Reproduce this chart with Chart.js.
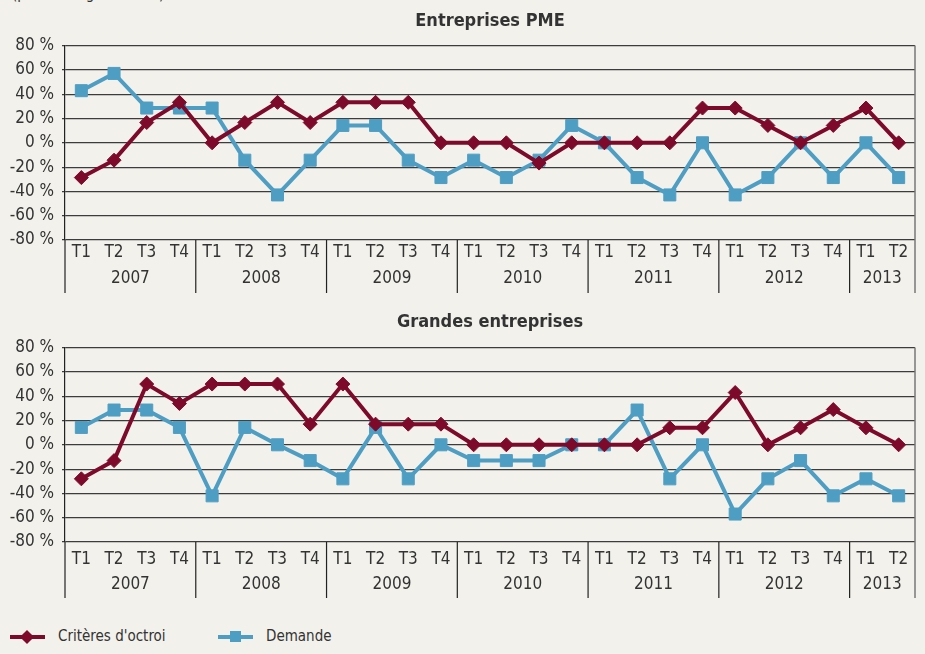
<!DOCTYPE html>
<html>
<head>
<meta charset="utf-8">
<script src="https://cdn.jsdelivr.net/npm/chart.js@4.4.0/dist/chart.umd.min.js"></script>
<style>
  body { margin: 0; background: #f2f1eb; width: 925px; height: 654px; position: relative; overflow: hidden;
         font-family: "DejaVu Sans Condensed", "DejaVu Sans", sans-serif; color: #333; }
  .box { position: absolute; left: 0; width: 925px; height: 300px; }
  #note { position: absolute; left: 12px; top: -13px; font-size: 15px; line-height: 15px; color: #333; }
  .legend { position: absolute; top: 626px; left: 10px; font-size: 15px; }
  .item { position: absolute; top: 0; white-space: nowrap; }
  .sym { position: absolute; top: 9px; width: 35px; height: 4px; }
  .sym i { position: absolute; left: 12px; top: -4px; width: 11px; height: 11px; }
  .txt { position: absolute; left: 48px; top: 0; line-height: 21px; }
</style>
</head>
<body>
<div id="note">(pourcentage du total)</div>
<div class="box" style="top:0"><canvas id="pme"></canvas></div>
<div class="box" style="top:300px"><canvas id="ge"></canvas></div>
<div class="legend">
  <div class="item" style="left:0">
    <div class="sym" style="background:#7d0a2a"><i style="background:#7d0a2a;transform:rotate(45deg);width:10px;height:10px;top:-3px"></i></div>
    <span class="txt">Critères d'octroi</span>
  </div>
  <div class="item" style="left:208px">
    <div class="sym" style="background:#4e9ec4"><i style="background:#4e9ec4"></i></div>
    <span class="txt">Demande</span>
  </div>
</div>
<script>
const quarters = ["T1","T2","T3","T4","T1","T2","T3","T4","T1","T2","T3","T4","T1","T2","T3","T4",
                  "T1","T2","T3","T4","T1","T2","T3","T4","T1","T2"];
const years = ["2007","2008","2009","2010","2011","2012","2013"];
const yearSpans = [4, 4, 4, 4, 4, 4, 2];

// Entreprises PME
const pmeCriteres = [-28.6, -14.3, 16.7, 33.3, 0, 16.7, 33.3, 16.7, 33.3, 33.3, 33.3, 0,
                     0, 0, -16.7, 0, 0, 0, 0, 28.6, 28.6, 14.3, 0, 14.3, 28.6, 0];
const pmeDemande = [42.9, 57.1, 28.6, 28.6, 28.6, -14.3, -42.9, -14.3, 14.3, 14.3, -14.3, -28.6,
                    -14.3, -28.6, -14.3, 14.3, 0, -28.6, -42.9, 0, -42.9, -28.6, 0, -28.6, 0, -28.6];

// Grandes entreprises
const geCriteres = [-28, -13, 50, 34, 50, 50, 50, 17, 50, 17, 17, 17,
                    0, 0, 0, 0, 0, 0, 14, 14, 43, 0, 14, 29, 14, 0];
const geDemande = [14.3, 28.6, 28.6, 14.3, -42, 14.3, 0, -13, -28, 14.3, -28, 0,
                   -13, -13, -13, 0, 0, 28.6, -28, 0, -57, -28, -13, -42, -28, -42];

const RED = "#7d0a2a";
const BLUE = "#4e9ec4";
const INK = "#333333";
const GRID = "#3c3c3c";
const FONT = '"DejaVu Sans Condensed", "DejaVu Sans", sans-serif';

// draws the year row and the group separators under the quarter labels
const yearRow = {
  id: "yearRow",
  afterDraw(chart, args, opts) {
    const x = chart.scales.x;
    const ctx = chart.ctx;
    const top = chart.chartArea.top;
    const base = chart.chartArea.bottom;
    const end = base + opts.sepLength;
    ctx.save();
    ctx.strokeStyle = "#222";
    ctx.lineWidth = 1.2;
    let start = 0;
    years.forEach((yr, i) => {
      const left = x.getPixelForValue(start - 0.5);
      const right = x.getPixelForValue(start + yearSpans[i] - 0.5);
      ctx.beginPath();
      ctx.moveTo(left, base);
      ctx.lineTo(left, end);
      ctx.stroke();
      ctx.fillStyle = INK;
      ctx.font = "17px " + FONT;
      ctx.textAlign = "center";
      ctx.textBaseline = "middle";
      ctx.fillText(yr, (left + right) / 2, base + opts.yearOffset);
      start += yearSpans[i];
    });
    // right edge of the frame
    ctx.strokeStyle = "#777";
    ctx.lineWidth = 1.5;
    ctx.beginPath();
    ctx.moveTo(x.right, top);
    ctx.lineTo(x.right, end);
    ctx.stroke();
    ctx.restore();
  }
};

function makeChart(id, title, criteres, demande, geo) {
  return new Chart(document.getElementById(id), {
    type: "line",
    data: {
      labels: quarters,
      datasets: [
        {
          label: "Critères d'octroi",
          data: criteres,
          borderColor: RED,
          backgroundColor: RED,
          borderWidth: 4,
          pointStyle: "rectRot",
          pointRadius: 7,
          pointBorderWidth: 1,
          tension: 0
        },
        {
          label: "Demande",
          data: demande,
          borderColor: BLUE,
          backgroundColor: BLUE,
          borderWidth: 4,
          pointStyle: "rect",
          pointRadius: 8.5,
          pointBorderWidth: 1,
          tension: 0
        }
      ]
    },
    options: {
      responsive: true,
      maintainAspectRatio: false,
      animation: false,
      layout: { padding: { left: 0, right: 10, top: 0, bottom: geo.padBottom } },
      plugins: {
        legend: { display: false },
        tooltip: { enabled: false },
        title: {
          display: true,
          fullSize: false,
          text: title,
          color: INK,
          font: { family: FONT, size: 18, weight: "bold" },
          padding: { top: geo.titleTop, bottom: geo.titleBottom }
        },
        yearRow: { yearOffset: geo.yearOffset, sepLength: geo.sepLength }
      },
      scales: {
        x: {
          offset: true,
          grid: { display: false, drawTicks: false },
          border: { display: false },
          ticks: { color: INK, font: { family: FONT, size: 17 }, padding: geo.tickPad, maxRotation: 0, autoSkip: false },
          afterFit(scale) { scale.height = geo.axisHeight; }
        },
        y: {
          min: -80,
          max: 80,
          grid: { color: GRID, lineWidth: 1.2, tickLength: 3 },
          border: { display: true, color: "#222", width: 1.2 },
          ticks: {
            stepSize: 20,
            color: INK,
            padding: 8,
            font: { family: FONT, size: 17 },
            callback: (v) => v + "\u00a0%"
          },
          afterFit(scale) { scale.width = 65; }
        }
      }
    },
    plugins: [yearRow]
  });
}

makeChart("pme", "Entreprises PME", pmeCriteres, pmeDemande,
  { padBottom: 6, titleTop: 11, titleBottom: 13, tickPad: 2, yearOffset: 39, sepLength: 53, axisHeight: 54 });
makeChart("ge", "Grandes entreprises", geCriteres, geDemande,
  { padBottom: 2, titleTop: 12, titleBottom: 14, tickPad: 7, yearOffset: 43, sepLength: 56, axisHeight: 56 });
</script>
</body>
</html>
